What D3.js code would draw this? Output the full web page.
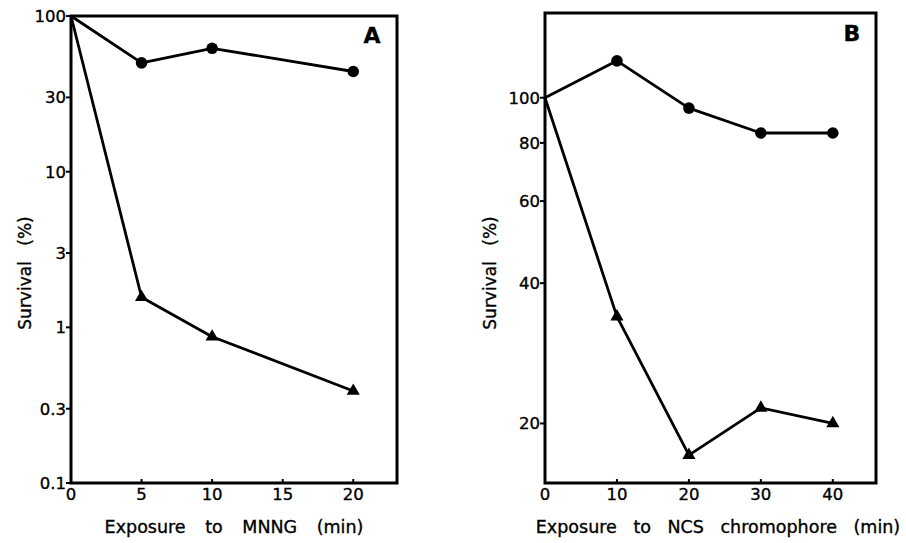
<!DOCTYPE html>
<html>
<head>
<meta charset="utf-8">
<script src="https://cdn.jsdelivr.net/npm/d3@7"></script>
<style>
  body { margin: 0; background: #fff; }
  svg text { font-family: "DejaVu Sans", sans-serif; fill: #000; stroke: #000; stroke-width: 0.35; }
</style>
</head>
<body>
<svg id="chart" width="906" height="543"></svg>
<script>
'use strict';

// Panel A: MNNG exposure (min) vs survival (%)
var timesA = [0, 5, 10, 20];
var circlesA = [100, 50, 62, 44];
var trianglesA = [100, 1.56, 0.87, 0.39];
var xTicksA = [0, 5, 10, 15, 20];
var yTicksA = [0.1, 0.3, 1, 3, 10, 30, 100];
var yLabelsA = ["0.1", "0.3", "1", "3", "10", "30", "100"];

// Panel B: NCS chromophore exposure (min) vs survival (%)
var timesB = [0, 10, 20, 30, 40];
var circlesB = [100, 120, 95, 84, 84];
var trianglesB = [100, 33.9, 17.1, 21.6, 20];
var xTicksB = [0, 10, 20, 30, 40];
var yTicksB = [20, 40, 60, 80, 100];
var yLabelsB = ["20", "40", "60", "80", "100"];

var svg = d3.select('#chart');

function drawPanel(p) {
	var x = d3.scaleLinear().domain(p.xDomain).range([p.left, p.right]);
	var y = d3.scaleLog().domain(p.yDomain).range([p.bottom, p.top]);
	var g = svg.append('g');

	// frame
	g.append('rect')
		.attr('x', p.left).attr('y', p.top)
		.attr('width', p.right - p.left).attr('height', p.bottom - p.top)
		.attr('fill', 'none').attr('stroke', '#000').attr('stroke-width', 3);

	// y ticks (outward) and labels
	g.selectAll('.yt').data(p.yTicks).enter().append('line')
		.attr('x1', p.left - 5).attr('x2', p.left)
		.attr('y1', function(d){ return y(d); }).attr('y2', function(d){ return y(d); })
		.attr('stroke', '#000').attr('stroke-width', 2);
	g.selectAll('.yl').data(p.yTicks).enter().append('text')
		.attr('x', p.left - 5)
		.attr('y', function(d){ return y(d); })
		.attr('dy', '0.36em')
		.attr('text-anchor', 'end')
		.attr('font-size', 16.5)
		.text(function(d, i){ return p.yLabels[i]; });

	// x ticks (inward) and labels
	g.selectAll('.xt').data(p.xTicks).enter().append('line')
		.attr('x1', function(d){ return x(d); }).attr('x2', function(d){ return x(d); })
		.attr('y1', p.bottom - 4).attr('y2', p.bottom)
		.attr('stroke', '#000').attr('stroke-width', 2);
	g.selectAll('.xl').data(p.xTicks).enter().append('text')
		.attr('x', function(d){ return x(d); })
		.attr('y', p.bottom + 17)
		.attr('text-anchor', 'middle')
		.attr('font-size', 16.5)
		.text(function(d){ return d; });

	var line = d3.line()
		.x(function(d){ return x(d[0]); })
		.y(function(d){ return y(d[1]); });

	var circ = d3.zip(p.times, p.circles);
	var tri = d3.zip(p.times, p.triangles);

	[circ, tri].forEach(function(s){
		g.append('path').datum(s)
			.attr('d', line)
			.attr('fill', 'none').attr('stroke', '#000')
			.attr('stroke-width', 2.8).attr('stroke-linejoin', 'round');
	});

	g.selectAll('.c').data(circ.slice(1)).enter().append('circle')
		.attr('cx', function(d){ return x(d[0]); })
		.attr('cy', function(d){ return y(d[1]); })
		.attr('r', 5.8).attr('fill', '#000');

	var triSym = d3.symbol().type(d3.symbolTriangle).size(75);
	g.selectAll('.t').data(tri.slice(1)).enter().append('path')
		.attr('d', triSym)
		.attr('transform', function(d){ return 'translate(' + x(d[0]) + ',' + y(d[1]) + ')'; })
		.attr('fill', '#000');

	// panel letter
	g.append('text')
		.attr('x', p.letterX).attr('y', p.letterY)
		.attr('font-size', 22).attr('font-weight', 'bold')
		.attr('text-anchor', 'middle')
		.text(p.letter);

	// axis titles
	g.append('text')
		.attr('transform', 'translate(' + p.yTitleX + ',273) rotate(-90)')
		.attr('text-anchor', 'middle')
		.attr('font-size', 17)
		.attr('word-spacing', 10)
		.text('Survival (%)');

	g.append('text')
		.attr('x', p.xTitleX).attr('y', 533)
		.attr('text-anchor', 'middle')
		.attr('font-size', 17.5)
		.attr('word-spacing', p.xTitleSpacing)
		.text(p.xTitle);
}

drawPanel({
	left: 71, right: 397, top: 16, bottom: 483,
	xDomain: [0, 23.1], yDomain: [0.1, 100],
	times: timesA, circles: circlesA, triangles: trianglesA,
	xTicksA: null, xTicks: xTicksA, yTicks: yTicksA, yLabels: yLabelsA,
	letter: 'A', letterX: 372, letterY: 43,
	yTitleX: 31, xTitleX: 234, xTitle: 'Exposure to MNNG (min)', xTitleSpacing: 14
});

drawPanel({
	left: 545, right: 876, top: 13, bottom: 483,
	xDomain: [0, 46], yDomain: [14.9, 152],
	times: timesB, circles: circlesB, triangles: trianglesB,
	xTicks: xTicksB, yTicks: yTicksB, yLabels: yLabelsB,
	letter: 'B', letterX: 852, letterY: 41,
	yTitleX: 496, xTitleX: 718, xTitle: 'Exposure to NCS chromophore (min)', xTitleSpacing: 11
});
</script>
</body>
</html>
